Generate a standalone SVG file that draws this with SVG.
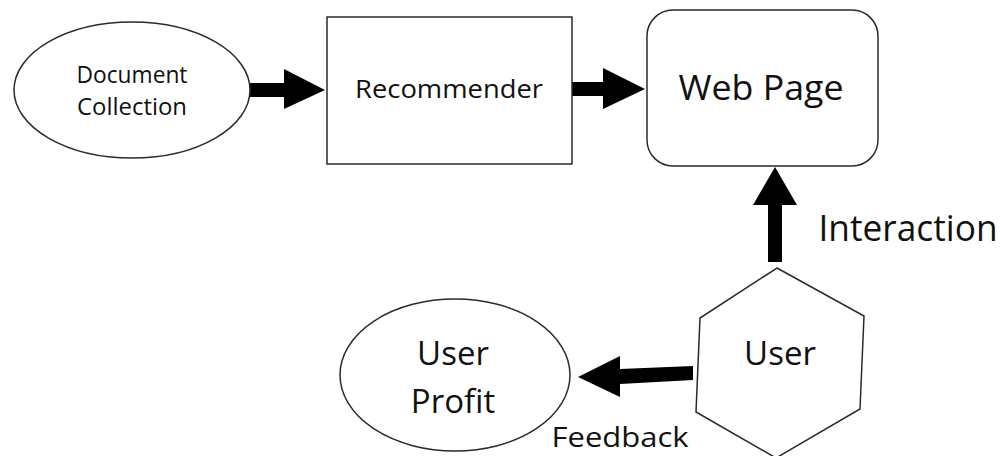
<svg xmlns="http://www.w3.org/2000/svg" width="1004" height="456" viewBox="0 0 1004 456">
  <style>
    .shape { fill: #ffffff; stroke: #2b2b2b; stroke-width: 1.5; }
    .arrow { fill: #000000; stroke: none; }
    .label { font-family: "Open Sans", "Liberation Sans", sans-serif; fill: #111111; text-anchor: middle; }
  </style>
  <rect width="1004" height="456" fill="#ffffff"/>

  <!-- block arrows between the nodes -->
  <g id="connectors">
    <polygon class="arrow" points="250,83 284,83 284,69 325,90 284,109 284,97 250,97"/>
    <polygon class="arrow" points="572,82 603,82 603,68 645,89 603,109 603,96 572,96"/>
    <polygon class="arrow" points="768,262 768,205 753,205 775,167 797,205 782,205 782,262"/>
    <polygon class="arrow" points="693,366 693,380 620,384 620,397 578,377 620,356 620,369"/>
  </g>

  <g id="document-collection">
    <ellipse class="shape" cx="132" cy="90" rx="118" ry="68"/>
    <text class="label" x="132" y="83" font-size="23" textLength="111" lengthAdjust="spacingAndGlyphs">Document</text>
    <text class="label" x="132" y="115" font-size="23" textLength="110" lengthAdjust="spacingAndGlyphs">Collection</text>
  </g>

  <g id="recommender">
    <rect class="shape" x="327" y="17" width="245" height="147"/>
    <text class="label" x="449" y="98" font-size="25" textLength="188" lengthAdjust="spacingAndGlyphs">Recommender</text>
  </g>

  <g id="web-page">
    <rect class="shape" x="647" y="10" width="231" height="156" rx="26" ry="26"/>
    <text class="label" x="761" y="100" font-size="34" textLength="165" lengthAdjust="spacingAndGlyphs">Web Page</text>
  </g>

  <g id="user">
    <polygon class="shape" points="777,268 864,316 860,409 776,458 696,412 700,318"/>
    <text class="label" x="780" y="365" font-size="33">User</text>
  </g>

  <g id="user-profit">
    <ellipse class="shape" cx="455" cy="375" rx="115" ry="76"/>
    <text class="label" x="453" y="365" font-size="33">User</text>
    <text class="label" x="453" y="413" font-size="33">Profit</text>
  </g>

  <text class="label" x="908" y="241" font-size="36" textLength="179" lengthAdjust="spacingAndGlyphs">Interaction</text>
  <text class="label" x="620" y="447" font-size="27" textLength="137" lengthAdjust="spacingAndGlyphs">Feedback</text>
</svg>
